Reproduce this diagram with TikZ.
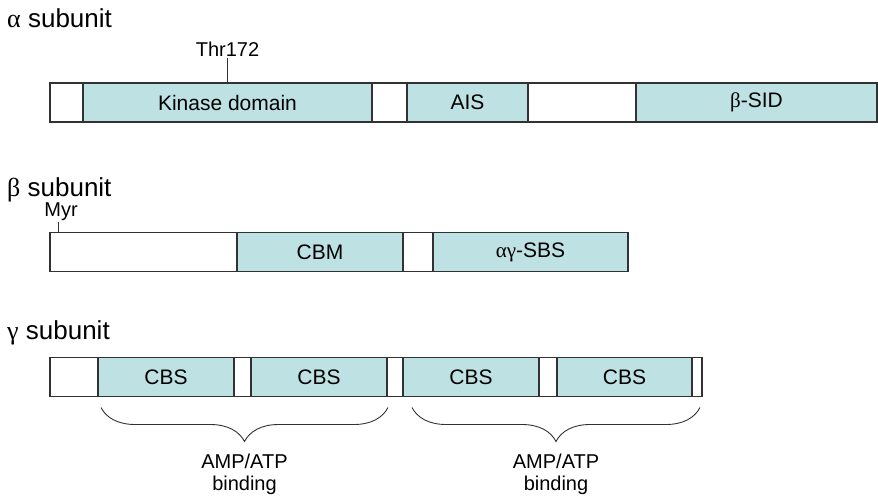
\documentclass[tikz,border=0pt]{standalone}
\usepackage{fontspec}
\setmainfont{Liberation Sans}
\newfontfamily\grk{Liberation Serif}
\usetikzlibrary{positioning,calc,decorations.pathreplacing}
\definecolor{domfill}{RGB}{190,225,228}
\definecolor{lincol}{RGB}{50,50,50}

\begin{document}
\begin{tikzpicture}[x=1pt,y=-1pt,node distance=0pt,
  seg/.style={draw=lincol,line width=1.1pt,minimum height=39pt,inner sep=0pt,outer sep=0pt,anchor=west,font=\fontsize{21}{24}\selectfont},
  gap/.style={seg,fill=white},
  dom/.style={seg,fill=domfill},
  title/.style={anchor=base west,inner sep=0pt,font=\fontsize{26}{30}\selectfont},
  site/.style={inner sep=1pt,font=\fontsize{20}{22}\selectfont},
  brace/.style={decorate,decoration={brace,mirror,amplitude=34pt,aspect=0.5},draw=lincol,line width=0.9pt}]
 		\useasboundingbox (0,0) rectangle (878,499);
 		% alpha subunit
 		\node[title]                      (ta)  at (7,27)          {{\grk α} subunit};
 		\node[gap,minimum width=33pt]     (a0)  at (50,102.5)      {};
 		\node[dom,minimum width=289pt]    (a1)  [right=of a0]      {Kinase domain};
 		\node[gap,minimum width=35pt]     (a2)  [right=of a1]      {};
 		\node[dom,minimum width=121pt]    (a3)  [right=of a2]      {AIS};
 		\node[gap,minimum width=108pt]    (a4)  [right=of a3]      {};
 		\node[dom,minimum width=241pt]    (a5)  [right=of a4]      {{\grk β}-SID};
 		\node[site]                       (thr) [above=25pt of a1.north] {Thr172};
 		\draw[lincol,line width=0.9pt] (a1.north) -- (thr.south);
 		% beta subunit
 		\node[title]                      (tb)  at (7,196)         {{\grk β} subunit};
 		\node[gap,minimum width=187pt]    (b0)  at (50,252)        {};
 		\node[dom,minimum width=166pt]    (b1)  [right=of b0]      {CBM};
 		\node[gap,minimum width=30pt]     (b2)  [right=of b1]      {};
 		\node[dom,minimum width=195pt]    (b3)  [right=of b2]      {{\grk αγ}-SBS};
 		\node[site,anchor=south]          (myr) at (61,222)        {Myr};
 		\draw[lincol,line width=0.9pt] ([xshift=8pt]b0.north west) -- ([xshift=8pt]b0.north west |- myr.south);
 		% gamma subunit
 		\node[title]                      (tg)  at (7,339)         {{\grk γ} subunit};
 		\node[gap,minimum width=48pt]     (g0)  at (50,377)        {};
 		\node[dom,minimum width=136pt]    (g1)  [right=of g0]      {CBS};
 		\node[gap,minimum width=17pt]     (g2)  [right=of g1]      {};
 		\node[dom,minimum width=136pt]    (g3)  [right=of g2]      {CBS};
 		\node[gap,minimum width=16pt]     (g4)  [right=of g3]      {};
 		\node[dom,minimum width=136pt]    (g5)  [right=of g4]      {CBS};
 		\node[gap,minimum width=18pt]     (g6)  [right=of g5]      {};
 		\node[dom,minimum width=135pt]    (g7)  [right=of g6]      {CBS};
 		\node[gap,minimum width=10pt]     (g8)  [right=of g7]      {};
 		\draw[brace] ([shift={(3pt,-11pt)}]g1.south west) -- node[site,align=center,below=45pt] (amp1) {AMP/ATP\\binding} ([shift={(1pt,-11pt)}]g3.south east);
 		\draw[brace] ([shift={(9pt,-11pt)}]g5.south west) -- node[site,align=center,below=45pt] (amp2) {AMP/ATP\\binding} ([shift={(8pt,-11pt)}]g7.south east);
 		\end{tikzpicture}
\end{document}
